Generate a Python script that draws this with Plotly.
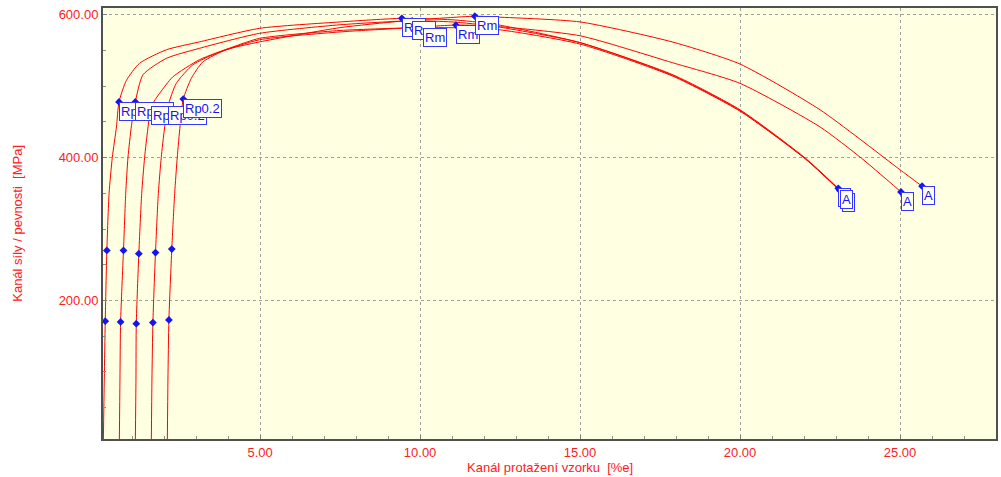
import plotly.graph_objects as go

# ---- data (strain [%], stress [MPa]) ----
c1_x = [0.10, 0.13, 0.16, 0.21, 0.28, 0.38, 0.51, 0.59, 0.82, 1.23, 2.07, 3.10, 4.98, 7.50, 9.43, 11.0, 12.3, 15.0, 17.9, 20.0, 22.05, 23.07]
c1_y = [0, 90, 171, 270, 350, 400, 443, 478, 508, 532, 551, 562, 581, 590, 595, 593, 587, 561, 516, 467, 399, 357]

c2_x = [0.60, 0.62, 0.64, 0.73, 0.80, 0.87, 0.98, 1.10, 1.34, 2.07, 3.10, 4.98, 7.50, 9.75, 11.0, 12.3, 15.0, 17.9, 20.0, 22.05, 23.18]
c2_y = [0, 90, 170, 270, 350, 400, 445, 478, 516, 539, 553, 574, 586, 591.6, 590, 584, 561, 515, 466, 398, 351]

c3_x = [1.10, 1.12, 1.13, 1.21, 1.30, 1.39, 1.49, 1.60, 1.86, 2.27, 3.10, 4.15, 4.98, 7.50, 10.1, 12.3, 15.0, 17.9, 20.0, 22.05, 23.12]
c3_y = [0, 90, 167.5, 265.5, 350, 400, 440, 472, 490, 513, 537, 555, 567, 578, 582, 580, 559, 514, 465, 398, 354]

c4_x = [1.60, 1.62, 1.65, 1.73, 1.82, 1.91, 2.01, 2.12, 2.38, 2.90, 3.63, 4.98, 7.50, 9.35, 11.12, 12.3, 15.0, 17.88, 20.0, 22.5, 23.8, 25.03]
c4_y = [0, 90, 169, 267, 350, 400, 440, 472, 504, 530, 546, 565, 576, 581, 585.6, 584, 570.6, 533, 504, 443, 399, 352]

c5_x = [2.10, 2.12, 2.15, 2.24, 2.33, 2.41, 2.50, 2.60, 2.85, 3.21, 3.94, 4.98, 7.50, 9.40, 11.71, 12.3, 15.0, 17.88, 20.0, 22.5, 25.0, 25.69]
c5_y = [0, 90, 172.7, 272, 350, 400, 445, 482, 511, 534, 551, 562, 582, 591, 598, 597, 590, 562, 531, 467, 383, 360]

curves = [(c1_x, c1_y), (c2_x, c2_y), (c3_x, c3_y), (c4_x, c4_y), (c5_x, c5_y)]

# characteristic points
e1_x = [0.16, 0.64, 1.13, 1.65, 2.15]
e1_y = [171, 170, 167.5, 169, 172.7]
e2_x = [0.21, 0.73, 1.21, 1.73, 2.24]
e2_y = [270, 270, 265.5, 267, 272]
rp_x = [0.59, 1.10, 1.60, 2.12, 2.60]
rp_y = [478, 478, 472, 472, 482]
rm_x = [9.43, 9.75, 10.1, 11.12, 11.71]
rm_y = [595, 591.6, 582, 585.6, 598]
a_x = [23.07, 23.18, 23.12, 25.03, 25.69]
a_y = [357, 351, 354, 352, 360]

x_ticks = [5, 10, 15, 20, 25]
y_ticks = [200, 400, 600]

RED = "#FF2020"
BLUE = "#1515F0"
FONT = "Liberation Sans, Arial, sans-serif"

fig = go.Figure()
for cx, cy in curves:
    fig.add_trace(go.Scatter(x=cx, y=cy, mode="lines",
                             line=dict(color="#FF0000", width=1, shape="spline", smoothing=0.6),
                             hoverinfo="skip", showlegend=False))

mx = []
my = []
for i in range(5):
    mx += [e1_x[i], e2_x[i], rp_x[i], rm_x[i], a_x[i]]
    my += [e1_y[i], e2_y[i], rp_y[i], rm_y[i], a_y[i]]
fig.add_trace(go.Scatter(x=mx, y=my, mode="markers",
                         marker=dict(symbol="diamond", size=6, color=BLUE),
                         hoverinfo="skip", showlegend=False))

annotations = []
for kind, xs, ys in [("Rp0.2", rp_x, rp_y), ("Rm", rm_x, rm_y), ("A", a_x, a_y)]:
    for i in range(5):
        annotations.append(dict(x=xs[i], y=ys[i], xref="x", yref="y", text=kind, showarrow=False,
                                xanchor="left", yanchor="top",
                                font=dict(family=FONT, size=13, color=BLUE),
                                bgcolor="#FFFFF2", bordercolor="#3535FF", borderwidth=1, borderpad=1))

annotations.append(dict(x=-0.096, y=0.5, xref="paper", yref="paper",
                        text="Kanál síly / pevnosti  [MPa]", textangle=-90, showarrow=False,
                        xanchor="center", yanchor="middle",
                        font=dict(family=FONT, size=13, color=RED)))
annotations.append(dict(x=0.5, y=-0.065, xref="paper", yref="paper",
                        text="Kanál protažení vzorku  [%e]", showarrow=False,
                        xanchor="center", yanchor="middle",
                        font=dict(family=FONT, size=13, color=RED)))

fig.update_layout(
    width=1001, height=477,
    margin=dict(l=103, r=3, t=8, b=38),
    paper_bgcolor="white",
    plot_bgcolor="#FFFFE1",
    annotations=annotations,
    font=dict(family=FONT),
)
fig.update_xaxes(range=[0.09, 28.0], tickvals=x_ticks, ticktext=[f"{v:.2f}" for v in x_ticks],
                 showgrid=True, gridcolor="#A0A0A0", griddash="dot", gridwidth=1,
                 showline=True, linecolor="#505050", linewidth=2, mirror=True,
                 ticks="inside", ticklen=4, tickcolor="#808080",
                 minor=dict(dtick=1, tick0=0, ticks="inside", ticklen=3, tickcolor="#909090", showgrid=False),
                 tickfont=dict(family=FONT, size=13, color=RED), zeroline=False)
fig.update_yaxes(range=[6, 609.5], tickvals=y_ticks, ticktext=[f"{v:.2f}" for v in y_ticks],
                 showgrid=True, gridcolor="#A0A0A0", griddash="dot", gridwidth=1,
                 showline=True, linecolor="#505050", linewidth=2, mirror=True,
                 ticks="inside", ticklen=4, tickcolor="#808080",
                 minor=dict(dtick=50, tick0=0, ticks="inside", ticklen=3, tickcolor="#909090", showgrid=False),
                 tickfont=dict(family=FONT, size=13, color=RED), zeroline=False)

fig.write_html("out.html", config={"displayModeBar": False},
               post_script="document.body.style.margin='0';document.body.style.overflow='hidden';")
